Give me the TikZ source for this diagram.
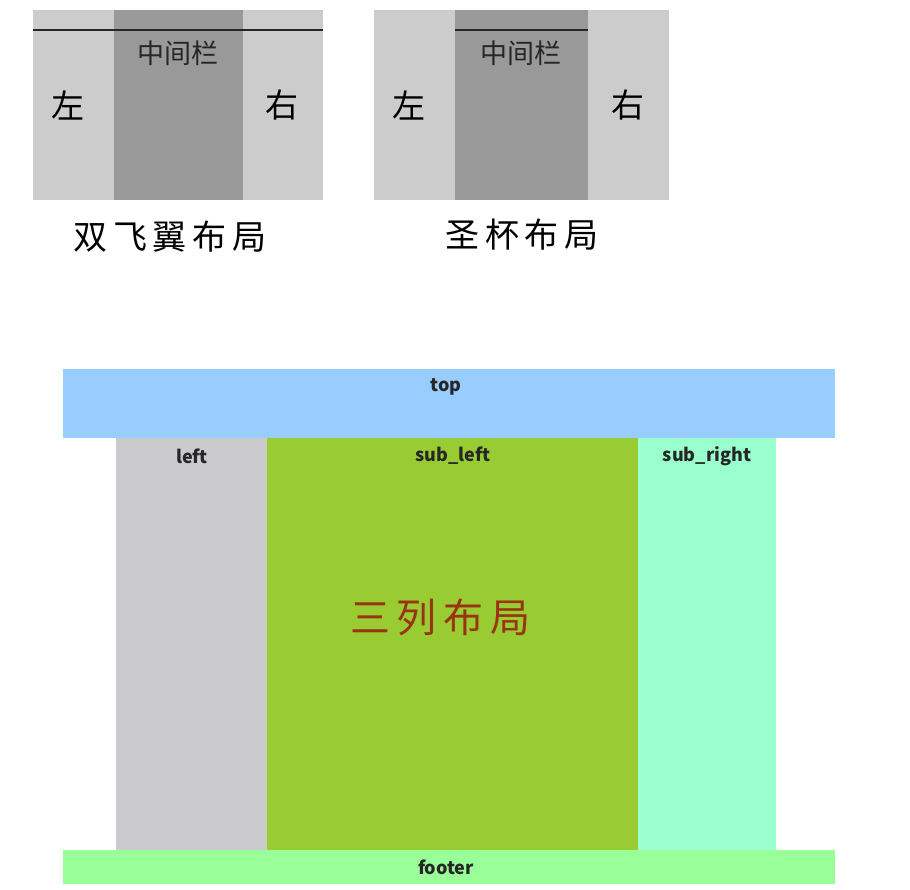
\documentclass[tikz,border=0pt]{standalone}
\usepackage{fontspec}
\setmainfont{Noto Sans CJK SC}
\newfontfamily\cjk{Noto Sans CJK SC}
\definecolor{lgray}{HTML}{CCCCCC}
\definecolor{dgray}{HTML}{999999}
\definecolor{topblue}{HTML}{99CCFF}
\definecolor{leftgray}{HTML}{CBCACD}
\definecolor{sublgreen}{HTML}{99CC33}
\definecolor{subrgreen}{HTML}{99FFCC}
\definecolor{footgreen}{HTML}{99FF99}
\definecolor{titlered}{HTML}{993311}
\tikzset{
  blk/.style={rectangle, inner sep=0pt, outer sep=0pt, anchor=north west},
  lbl/.style={font=\fontsize{18}{20}\selectfont\bfseries, text=black!85},
  cjkbig/.style={font=\fontsize{33}{36}\selectfont},
  cjkmid/.style={font=\fontsize{27}{30}\selectfont, text=black!85},
  caption/.style={font=\fontsize{34}{38}\selectfont, text=black},
  divline/.style={line width=2.5pt, black!85},
}
\begin{document}
\begin{tikzpicture}[x=1pt,y=-1pt]
\useasboundingbox[fill=white] (0,0) rectangle (910,889);
% ---- double wing layout ----
\node[blk, fill=lgray, minimum width=81pt, minimum height=190pt] (aL) at (33,10) {};
\node[blk, fill=dgray, minimum width=129pt, minimum height=190pt] (aM) at (114,10) {};
\node[blk, fill=lgray, minimum width=80pt, minimum height=190pt] (aR) at (243,10) {};
\draw[divline] ([yshift=-20pt]aL.north west) -- ([yshift=-20pt]aR.north east);
\node[cjkmid] (aMt) at (178,53) {中间栏};
\node[cjkbig] (aLt) at (68,105) {左};
\node[cjkbig] (aRt) at (282,105) {右};
\node[caption] (aCap) at (170,237) {双\,飞\,翼\,布\,局};
% ---- holy grail layout ----
\node[blk, fill=lgray, minimum width=81pt, minimum height=190pt] (bL) at (374,10) {};
\node[blk, fill=dgray, minimum width=133pt, minimum height=190pt] (bM) at (455,10) {};
\node[blk, fill=lgray, minimum width=81pt, minimum height=190pt] (bR) at (588,10) {};
\draw[divline] ([yshift=-20pt]bM.north west) -- ([yshift=-20pt]bM.north east);
\node[cjkmid] (bMt) at (521,53) {中间栏};
\node[cjkbig] (bLt) at (409,105) {左};
\node[cjkbig] (bRt) at (628,105) {右};
\node[caption] (bCap) at (522,235) {圣\,杯\,布\,局};
% ---- three column layout ----
\node[blk, fill=topblue, minimum width=772pt, minimum height=69pt] (top) at (63,369) {};
\node[blk, fill=leftgray, minimum width=151pt, minimum height=412pt] (left) at (116,438) {};
\node[blk, fill=sublgreen, minimum width=371pt, minimum height=412pt] (subl) at (267,438) {};
\node[blk, fill=subrgreen, minimum width=138pt, minimum height=412pt] (subr) at (638,438) {};
\node[blk, fill=footgreen, minimum width=772pt, minimum height=34pt] (foot) at (63,850) {};
\node[lbl] at (446,387) {top};
\node[lbl] at (192,456) {left};
\node[lbl] at (453,456) {sub\_left};
\node[lbl] at (707,456) {sub\_right};
\node[lbl] at (446,867) {footer};
\node[font=\fontsize{40}{44}\selectfont, text=titlered] (title) at (440,617) {三\,列\,布\,局};
\end{tikzpicture}
\end{document}
